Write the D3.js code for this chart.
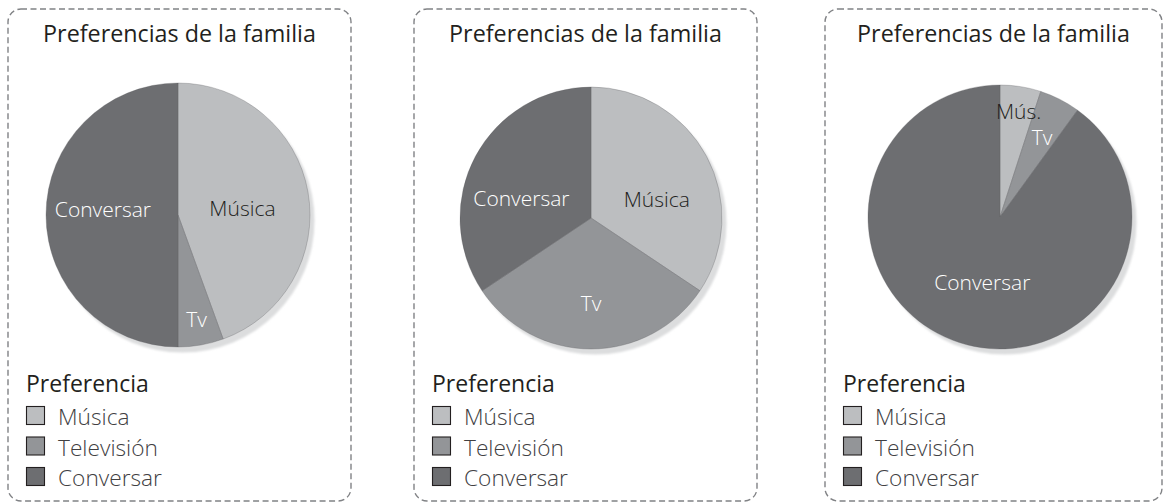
<!DOCTYPE html>
<html lang="es">
<head>
<meta charset="utf-8">
<script src="https://cdn.jsdelivr.net/npm/d3@7"></script>
<style>
  html, body { margin: 0; padding: 0; background: #ffffff; }
  svg { display: block; }
  .title { font-family: "Open Sans", "Noto Sans", sans-serif; fill: #231f20; }
  .slice-label { font-family: "Open Sans", "Noto Sans", sans-serif; font-weight: 300; }
  .legend-head { font-family: "Open Sans", "Noto Sans", sans-serif; fill: #231f20; }
  .legend-item { font-family: "Open Sans", "Noto Sans", sans-serif; font-weight: 300; fill: #414042; }
</style>
</head>
<body>
<svg id="chart" width="1166" height="504"></svg>
<script>
// ---- data ----
const chartTitle = "Preferencias de la familia";
const legendTitle = "Preferencia";
const categories = ["Música", "Televisión", "Conversar"];
const sliceNames = [
  ["Música", "Tv", "Conversar"],
  ["Música", "Tv", "Conversar"],
  ["Mús.", "Tv", "Conversar"]
];
const family1 = [8, 1, 9];
const family2 = [11, 10, 11];
const family3 = [1, 1, 18];
const families = [family1, family2, family3];

// ---- layout & style ----
const panels = [
  { x0: 8,   x1: 351,  cx: 178, cy: 215, r: 132 },
  { x0: 414, x1: 757,  cx: 591, cy: 218, r: 131 },
  { x0: 825, x1: 1162, cx: 1000, cy: 217, r: 132 }
];
const panelTop = 9, panelBottom = 501;

// label placement: shift from mid-angle (degrees) and radius fraction
const labelPlace = [
  [{ turn: 5,  k: 0.49 }, { turn: 0, k: 0.81 }, { turn: 4,   k: 0.57 }],
  [{ turn: 13, k: 0.52 }, { turn: 0, k: 0.66 }, { turn: -13, k: 0.55 }],
  [{ turn: 1,  k: 0.81 }, { turn: 1, k: 0.68 }, { turn: -3,  k: 0.52 }]
];

const color = d3.scaleOrdinal()
  .domain(categories)
  .range(["#bcbec0", "#939598", "#6d6e71"]);
const labelColor = d3.scaleOrdinal()
  .domain(categories)
  .range(["#231f20", "#ffffff", "#ffffff"]);

const svg = d3.select("#chart");

const defs = svg.append("defs");
defs.append("filter").attr("id", "soft")
  .attr("x", "-10%").attr("y", "-10%").attr("width", "120%").attr("height", "120%")
  .append("feGaussianBlur").attr("stdDeviation", 0.8);

const pie = d3.pie().sort(null).value(d => d.value);

panels.forEach((p, i) => {
  const g = svg.append("g");

  // dashed frame
  g.append("rect")
    .attr("x", p.x0).attr("y", panelTop)
    .attr("width", p.x1 - p.x0).attr("height", panelBottom - panelTop)
    .attr("rx", 13).attr("ry", 13)
    .attr("fill", "none")
    .attr("stroke", "#808285")
    .attr("stroke-width", 1.4)
    .attr("stroke-dasharray", "6 3.5");

  // title
  g.append("text").attr("class", "title")
    .attr("x", (p.x0 + p.x1) / 2).attr("y", 42)
    .attr("text-anchor", "middle")
    .attr("font-size", 23.3)
    .text(chartTitle);

  const rows = categories.map((c, j) => ({ cat: c, name: sliceNames[i][j], value: families[i][j], idx: j }));
  const arcs = pie(rows);
  const arc = d3.arc().innerRadius(0).outerRadius(p.r);

  const pg = g.append("g").attr("transform", `translate(${p.cx},${p.cy})`);

  // drop shadow
  pg.append("circle")
    .attr("cx", 4.5).attr("cy", 5.5).attr("r", p.r)
    .attr("fill", "#dcddde")
    .attr("filter", "url(#soft)");

  pg.selectAll("path.slice").data(arcs).join("path")
    .attr("class", "slice")
    .attr("d", arc)
    .attr("fill", d => color(d.data.cat))
    .attr("stroke", "#58595b")
    .attr("stroke-width", 0.3);

  pg.selectAll("text.slice-label").data(arcs).join("text")
    .attr("class", "slice-label")
    .attr("font-size", 21)
    .attr("text-anchor", "middle")
    .attr("fill", d => labelColor(d.data.cat))
    .attr("transform", d => {
      const pl = labelPlace[i][d.data.idx];
      const a = (d.startAngle + d.endAngle) / 2 + pl.turn * Math.PI / 180;
      const rr = pl.k * p.r;
      return `translate(${rr * Math.sin(a)},${-rr * Math.cos(a) + 7})`;
    })
    .text(d => d.data.name);

  // legend
  const lx = p.x0 + 18;
  g.append("text").attr("class", "legend-head")
    .attr("x", lx).attr("y", 392)
    .attr("font-size", 23)
    .text(legendTitle);

  const items = g.selectAll("g.item").data(categories).join("g")
    .attr("class", "item")
    .attr("transform", (c, j) => `translate(${lx},${425 + j * 30.5})`);
  items.append("rect")
    .attr("x", 0.5).attr("y", -18.5)
    .attr("width", 18).attr("height", 18)
    .attr("fill", c => color(c))
    .attr("stroke", "#231f20")
    .attr("stroke-width", 1.1);
  items.append("text").attr("class", "legend-item")
    .attr("x", 32).attr("y", 0)
    .attr("font-size", 22.7)
    .text(c => c);
});
</script>
</body>
</html>
